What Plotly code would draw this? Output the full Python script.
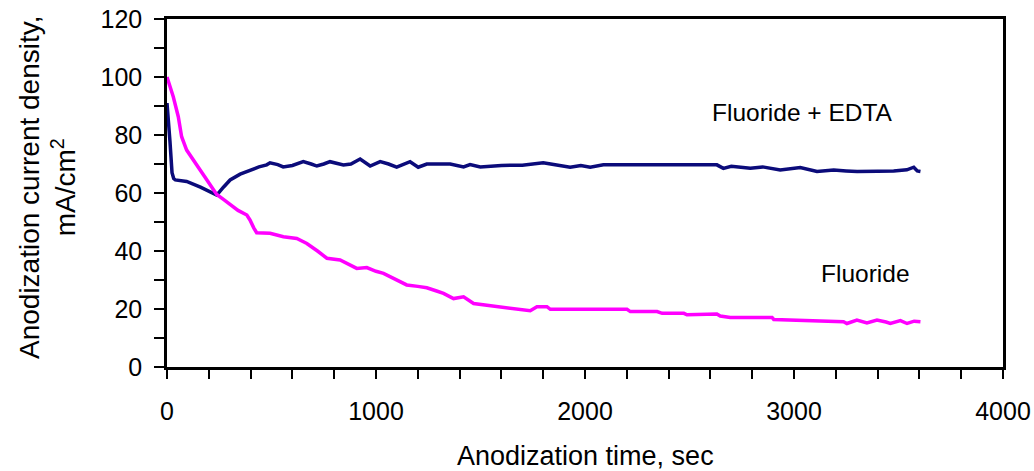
import plotly.graph_objects as go

# ---- data ----
edta_time = [0, 8, 14, 24, 32, 40, 94, 160, 222, 238, 270, 302, 350, 397, 440,
             477, 493, 530, 556, 600, 652, 690, 717, 750, 780, 844, 880, 924, 950, 972,
             1020, 1060, 1099, 1130, 1163, 1202, 1243, 1315, 1355, 1419, 1450, 1499, 1600, 1700, 1800,
             1850, 1929, 1980, 2025, 2088, 2300, 2500, 2631, 2662, 2700, 2791, 2850, 2934, 3030, 3110,
             3190, 3250, 3302, 3400, 3477, 3540, 3573, 3590, 3605]
edta_current = [91, 85, 78, 67, 65, 64.5, 64, 62, 59.8, 59.3, 62, 64.5, 66.5, 67.9, 69,
                69.7, 70.4, 69.8, 69, 69.5, 70.8, 70, 69.3, 70, 70.8, 69.7, 70, 71.7, 70.3, 69.3,
                70.8, 70, 68.9, 69.8, 70.8, 68.9, 70, 70, 70, 69, 69.8, 69, 69.5, 69.6, 70.4,
                69.8, 68.9, 69.5, 68.9, 69.7, 69.7, 69.7, 69.7, 68.5, 69.2, 68.5, 69, 67.9, 68.8, 67.4,
                67.9, 67.6, 67.4, 67.5, 67.6, 68, 68.9, 67.6, 67.4]

fluoride_time = [0, 30, 54, 70, 94, 126, 158, 198, 238, 270, 302, 340, 382, 397, 415,
                 429, 493, 557, 621, 669, 720, 765, 828, 870, 908, 956, 1000, 1036, 1090, 1147,
                 1200, 1243, 1290, 1323, 1371, 1419, 1467, 1520, 1563, 1620, 1675, 1738, 1770, 1818, 1834,
                 1950, 2100, 2201, 2217, 2345, 2369, 2473, 2488, 2631, 2647, 2695, 2800, 2895, 2903, 3014,
                 3030, 3150, 3237, 3253, 3301, 3349, 3397, 3440, 3461, 3509, 3541, 3575, 3605]
fluoride_current = [100, 93.2, 86.3, 79.4, 74.8, 71.4, 67.9, 63.3, 59.5, 57.8, 55.9, 54, 52.4, 50.7, 48,
                    46.3, 46.1, 44.9, 44.3, 42.6, 40, 37.5, 36.9, 35.5, 34, 34.3, 33, 32.3, 30.5, 28.3,
                    27.8, 27.3, 26.2, 25.4, 23.6, 24.2, 21.9, 21.4, 21, 20.3, 19.7, 19.4, 20.8, 20.8, 19.9,
                    19.9, 19.9, 19.9, 19.1, 19.1, 18.5, 18.5, 18, 18.3, 17.6, 17.1, 17.1, 17.1, 16.4, 16.2,
                    15.9, 15.8, 15.6, 15, 16.2, 15.2, 16.2, 15.5, 15, 16, 15, 15.8, 15.6]

x_tick_vals = [0, 1000, 2000, 3000, 4000]
y_tick_vals = [0, 20, 40, 60, 80, 100, 120]

FONT = "Liberation Sans, Arial, sans-serif"

fig = go.Figure()
fig.add_trace(go.Scatter(x=edta_time, y=edta_current, mode="lines",
                         name="Fluoride + EDTA",
                         line=dict(color="#0b0b7a", width=3.5), showlegend=False))
fig.add_trace(go.Scatter(x=fluoride_time, y=fluoride_current, mode="lines",
                         name="Fluoride",
                         line=dict(color="#ff00ff", width=3.5), showlegend=False))

axis_common = dict(showline=True, linecolor="black", linewidth=2.5, mirror=True,
                   showgrid=False, zeroline=False, ticks="outside", tickwidth=2,
                   automargin=False,
                   tickcolor="black", tickfont=dict(family=FONT, size=25, color="black"))

fig.update_xaxes(range=[0, 4000], tickvals=x_tick_vals, ticklen=9,
                 minor=dict(dtick=200, ticks="outside", ticklen=9, tickwidth=2, tickcolor="black"),
                 ticklabelstandoff=11, **axis_common)
fig.update_yaxes(range=[0, 120], tickvals=y_tick_vals, ticklen=10,
                 minor=dict(dtick=10, ticks="outside", ticklen=10, tickwidth=2, tickcolor="black"),
                 ticklabelstandoff=7, **axis_common)

fig.add_annotation(text="Anodization time, sec", xref="paper", yref="paper",
                   x=0.5, y=0, xanchor="center", yanchor="middle", yshift=-89,
                   showarrow=False, font=dict(family=FONT, size=27, color="black"))
fig.add_annotation(text="Anodization current density,<br>mA/cm<sup>2</sup>",
                   xref="paper", yref="paper", x=0, y=0.5, xanchor="center", yanchor="middle",
                   xshift=-120, yshift=5, textangle=-90, showarrow=False,
                   font=dict(family=FONT, size=28, color="black"))
fig.add_annotation(text="Fluoride + EDTA", x=3040, y=87.8, showarrow=False,
                   xanchor="center", yanchor="middle",
                   font=dict(family=FONT, size=24.5, color="black"))
fig.add_annotation(text="Fluoride", x=3344, y=32.2, showarrow=False,
                   xanchor="center", yanchor="middle",
                   font=dict(family=FONT, size=24.5, color="black"))

fig.update_layout(width=1034, height=471, margin=dict(l=167, r=31, t=19, b=104),
                  paper_bgcolor="white", plot_bgcolor="white",
                  font=dict(family=FONT, color="black"))

fig.write_html("out.html")
